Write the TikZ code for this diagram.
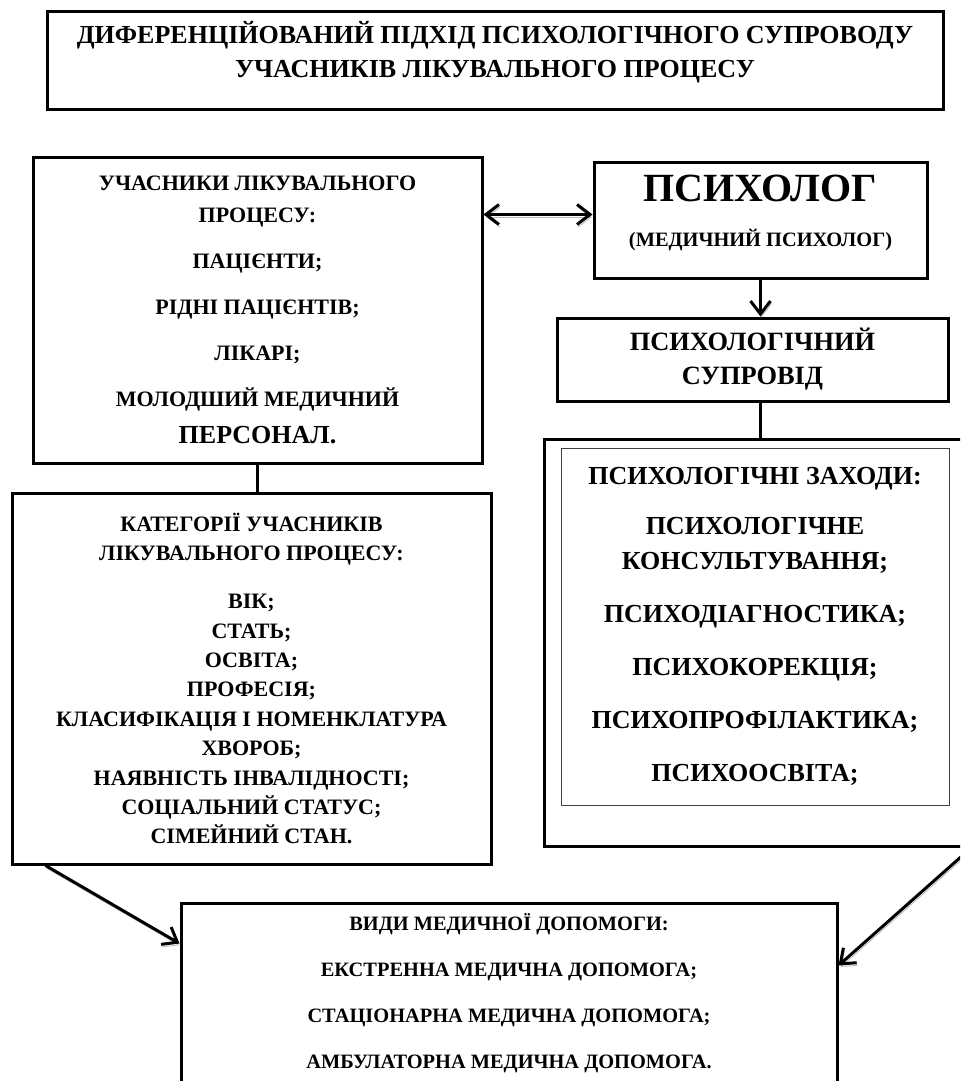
\documentclass[tikz,border=0pt]{standalone}
\usepackage{fontspec}
\setmainfont{Liberation Serif}
\usetikzlibrary{arrows.meta}

\begin{document}
\begin{tikzpicture}[x=0.5pt,y=-0.5pt,
    >={Straight Barb[length=6.5pt,width=10pt]},
    fs/.style 2 args={font=\fontsize{#1}{#2}\selectfont\bfseries},
    box/.style={draw,line width=1.5pt,align=center,inner sep=0pt},
    lnk/.style={line width=1.5pt},
    arr/.style={lnk,preaction={draw=gray!55,transform canvas={shift={(0.5pt,-1.3pt)}}}}]
  \path[use as bounding box,fill=white] (0,0) rectangle (960,1081);
  \clip (0,0) rectangle (960,1081);
  % title
  \node[box,fs={13}{17},anchor=north,minimum width=448pt,
        text height=32.8pt,text depth=16.2pt] (title) at (495,10)
    {ДИФЕРЕНЦІЙОВАНИЙ ПІДХІД ПСИХОЛОГІЧНОГО СУПРОВОДУ\\
     УЧАСНИКІВ ЛІКУВАЛЬНОГО ПРОЦЕСУ};
  % left column
  \node[box,fs={11}{16},minimum width=224.5pt,minimum height=153pt] (part) at (257.5,310)
    {УЧАСНИКИ ЛІКУВАЛЬНОГО\\ПРОЦЕСУ:\\[7pt]ПАЦІЄНТИ;\\[7pt]РІДНІ ПАЦІЄНТІВ;\\[7pt]
     ЛІКАРІ;\\[7pt]МОЛОДШИЙ МЕДИЧНИЙ\\[2.5pt]{\fontsize{13}{16}\selectfont ПЕРСОНАЛ.}};
  \node[box,fs={11}{14.7},minimum width=239.5pt,minimum height=185.5pt] (cat) at (251.5,678.5)
    {КАТЕГОРІЇ УЧАСНИКІВ\\ЛІКУВАЛЬНОГО ПРОЦЕСУ:\\[9.3pt]ВІК;\\СТАТЬ;\\ОСВІТА;\\ПРОФЕСІЯ;\\
     КЛАСИФІКАЦІЯ І НОМЕНКЛАТУРА\\ХВОРОБ;\\НАЯВНІСТЬ ІНВАЛІДНОСТІ;\\
     СОЦІАЛЬНИЙ СТАТУС;\\СІМЕЙНИЙ СТАН.};
  % right column
  \node[box,fs={10.2}{22.25},anchor=north,minimum width=166.5pt,
        text height=41.9pt,text depth=16.1pt] (psy) at (760.5,161)
    {{\fontsize{20}{22.25}\selectfont ПСИХОЛОГ}\\(МЕДИЧНИЙ ПСИХОЛОГ)};
  \node[box,fs={13.2}{17},minimum width=195.5pt,minimum height=41.5pt] (supr) at (752.5,359.5)
    {ПСИХОЛОГІЧНИЙ\\СУПРОВІД};
  \node[box,minimum width=213pt,minimum height=203.5pt] (zakh) at (757,642.5) {};
  \node[box,line width=0.5pt,draw=black!75,fs={13}{17.5},minimum width=194pt,
        minimum height=178.5pt] (zakhin) at (755,626.5)
    {ПСИХОЛОГІЧНІ ЗАХОДИ:\\[7.5pt]ПСИХОЛОГІЧНЕ\\КОНСУЛЬТУВАННЯ;\\[9pt]
     ПСИХОДІАГНОСТИКА;\\[9pt]ПСИХОКОРЕКЦІЯ;\\[9pt]ПСИХОПРОФІЛАКТИКА;\\[9pt]ПСИХООСВІТА;};
  % bottom
  \node[box,fs={10.2}{23},minimum width=328pt,minimum height=90.5pt] (vydy) at (509,993.5)
    {ВИДИ МЕДИЧНОЇ ДОПОМОГИ:\\ЕКСТРЕННА МЕДИЧНА ДОПОМОГА;\\
     СТАЦІОНАРНА МЕДИЧНА ДОПОМОГА;\\АМБУЛАТОРНА МЕДИЧНА ДОПОМОГА.};
  % links
  \draw[arr,<->] ([yshift=3pt]psy.west) -- ([yshift=3pt]psy.west -| part.east);
  \draw[arr,->] (psy.south) -- (psy.south |- supr.north);
  \draw[lnk] (psy.south |- supr.south) -- (psy.south |- zakh.north);
  \draw[lnk] (part.south) -- (part.south |- cat.north);
  \draw[arr,->] ([xshift=17.5pt]cat.south west) -- ([yshift=-21pt]vydy.north west);
  \draw[arr,->] (zakh.south east) -- ([yshift=-32pt]vydy.north east);
\end{tikzpicture}
\end{document}
